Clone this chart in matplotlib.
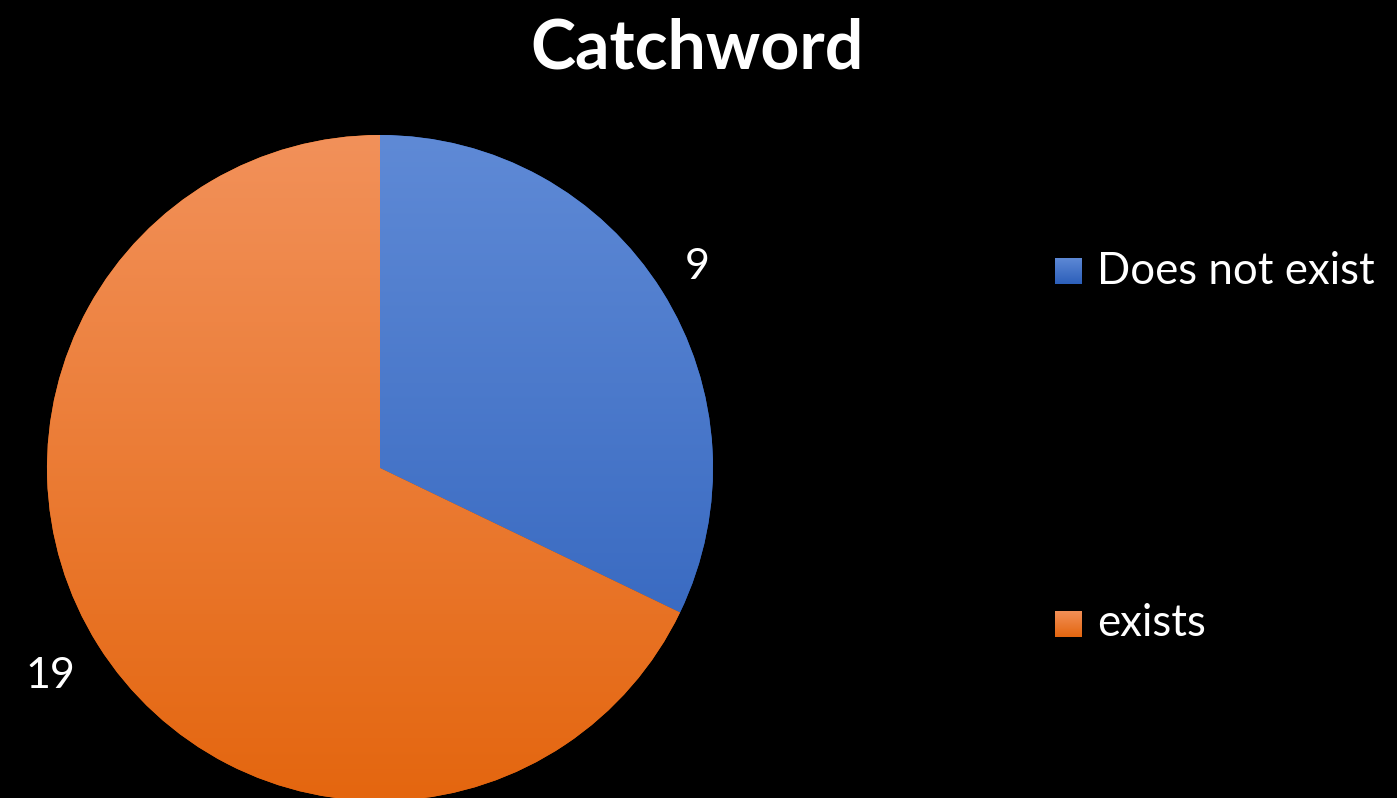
import numpy as np
import matplotlib
matplotlib.use("Agg")
import matplotlib.pyplot as plt
from matplotlib.colors import LinearSegmentedColormap

plt.rcParams['font.family'] = ['Lato', 'DejaVu Sans']

title = "Catchword"
categories = ["Does not exist", "exists"]
values = [9, 19]
# light (top) and dark (bottom) shades for each slice
shades = [("#5f8ad6", "#2c5fba"), ("#f2915a", "#e4660f")]

W, H = 1397, 798
fig = plt.figure(figsize=(W / 100, H / 100), dpi=100, facecolor="black")

cx, cy, r = 380, 468, 333
ax = fig.add_axes([(cx - r) / W, (H - cy - r) / H, 2 * r / W, 2 * r / H])
ax.set_facecolor("black")

wedges, _ = ax.pie(values, startangle=90, counterclock=False, radius=1,
                   wedgeprops=dict(linewidth=0))

grad = np.linspace(0, 1, 256).reshape(-1, 1)
for w, (light, dark) in zip(wedges, shades):
    cmap = LinearSegmentedColormap.from_list("g", [light, dark])
    w.set_facecolor(dark)
    im = ax.imshow(grad, cmap=cmap, extent=(-1, 1, -1, 1), origin="upper",
                   aspect="auto", zorder=w.get_zorder() + 0.1)
    im.set_clip_path(w)

ax.set_xlim(-1, 1)
ax.set_ylim(-1, 1)
ax.set_aspect("equal")
ax.axis("off")

# value labels
fig.text(697 / W, 1 - 267 / H, str(values[0]), color="white", fontsize=31,
         ha="center", va="center")
fig.text(50 / W, 1 - 676 / H, str(values[1]), color="white", fontsize=31,
         ha="center", va="center")

fig.text(697 / W, 1 - 49 / H, title, color="white", fontsize=49,
         fontweight="bold", ha="center", va="center")

# legend
legend_y = [271, 624]
sq = 27
for (label, (light, dark), ly) in zip(categories, shades, legend_y):
    lax = fig.add_axes([1055 / W, (H - ly - sq / 2) / H, sq / W, sq / H])
    cmap = LinearSegmentedColormap.from_list("g", [light, dark])
    lax.imshow(grad, cmap=cmap, extent=(0, 1, 0, 1), origin="upper", aspect="auto")
    lax.axis("off")
    fig.text(1097 / W, 1 - ly / H, label, color="white", fontsize=31.5,
             ha="left", va="center")

fig.savefig("out.png", dpi=100, facecolor="black")
